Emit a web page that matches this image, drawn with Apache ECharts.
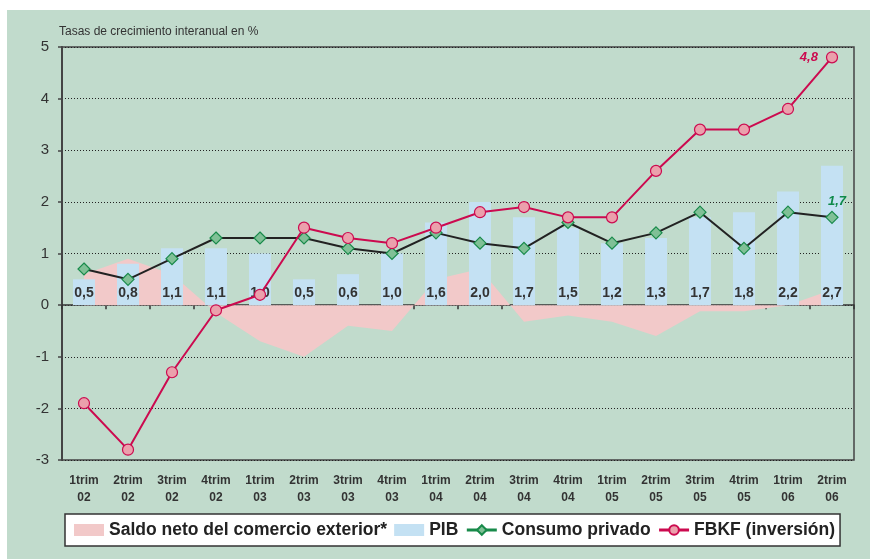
<!DOCTYPE html>
<html>
<head>
<meta charset="utf-8">
<title>Crecimiento interanual</title>
<script src="https://cdn.jsdelivr.net/npm/echarts@6/dist/echarts.min.js"></script>
<style>
  html, body { margin: 0; padding: 0; background: #fff; }
  #main { position: absolute; left: 7px; top: 10px; width: 863px; height: 549px; }
</style>
</head>
<body>
<div id="main"></div>
<script>
var trimestres = ['1trim\n02', '2trim\n02', '3trim\n02', '4trim\n02', '1trim\n03', '2trim\n03', '3trim\n03', '4trim\n03',
                  '1trim\n04', '2trim\n04', '3trim\n04', '4trim\n04', '1trim\n05', '2trim\n05', '3trim\n05', '4trim\n05',
                  '1trim\n06', '2trim\n06'];
var saldo = [0.6, 0.9, 0.6, -0.15, -0.7, -1.0, -0.4, -0.5, 0.5, 0.7, -0.32, -0.2, -0.32, -0.6, -0.12, -0.12, 0.0, 0.3];
var pib = [0.5, 0.8, 1.1, 1.1, 1.0, 0.5, 0.6, 1.0, 1.6, 2.0, 1.7, 1.5, 1.2, 1.3, 1.7, 1.8, 2.2, 2.7];
var consumo = [0.7, 0.5, 0.9, 1.3, 1.3, 1.3, 1.1, 1.0, 1.4, 1.2, 1.1, 1.6, 1.2, 1.4, 1.8, 1.1, 1.8, 1.7];
var fbkf = [-1.9, -2.8, -1.3, -0.1, 0.2, 1.5, 1.3, 1.2, 1.5, 1.8, 1.9, 1.7, 1.7, 2.6, 3.4, 3.4, 3.8, 4.8];
var yTicks = [-3, 5, 1];

var fuente = '"Liberation Sans", Arial, sans-serif';
function coma(v) { return v.toFixed(1).replace('.', ','); }

var ultimo = trimestres.length - 1;

var myChart = echarts.init(document.getElementById('main'));
var option = {
  backgroundColor: '#c1dbcc',
  animation: false,
  textStyle: { fontFamily: fuente },
  title: {
    text: 'Tasas de crecimiento interanual en %',
    left: 47, top: 11,
    textStyle: { fontSize: 12, fontWeight: 'normal', color: '#333', fontFamily: fuente }
  },
  legend: {
    left: 58, top: 504,
    backgroundColor: '#fff',
    borderColor: '#333', borderWidth: 1.5,
    padding: [7, 5, 7, 9],
    itemGap: 7,
    itemWidth: 30, itemHeight: 12,
    textStyle: { fontSize: 17.5, fontWeight: 'bold', color: '#222', fontFamily: fuente },
    data: [
      { name: 'Saldo neto del comercio exterior*', icon: 'rect' },
      { name: 'PIB', icon: 'rect' },
      { name: 'Consumo privado', lineStyle: { color: '#188a4a', width: 3 } },
      { name: 'FBKF (inversión)', lineStyle: { color: '#cc0a4f', width: 3 } }
    ]
  },
  grid: {
    left: 55, top: 37, right: 16, bottom: 99,
    show: true, borderColor: '#444', borderWidth: 1.5, backgroundColor: 'transparent'
  },
  xAxis: [
    {
      type: 'category', data: trimestres,
      axisLine: { onZero: true, lineStyle: { color: '#333', width: 1.5 } },
      axisTick: { show: true, length: 4, lineStyle: { color: '#333', width: 1.5 } },
      axisLabel: { show: false }
    },
    {
      type: 'category', data: trimestres, position: 'bottom',
      axisLine: { show: false, onZero: false },
      axisTick: { show: false },
      axisLabel: { fontSize: 12, fontWeight: 'bold', color: '#333', lineHeight: 17, margin: 12 }
    }
  ],
  yAxis: {
    type: 'value', min: yTicks[0], max: yTicks[1], interval: yTicks[2],
    axisLine: { show: true, lineStyle: { color: '#444', width: 2 } },
    axisTick: { show: true, length: 4, lineStyle: { color: '#444', width: 1.5 } },
    axisLabel: { fontSize: 15, color: '#333', margin: 13 },
    splitLine: { lineStyle: { type: [1, 2], color: '#222', width: 1 } }
  },
  series: [
    {
      name: 'Saldo neto del comercio exterior*', type: 'line', data: saldo, z: 1,
      symbol: 'none', lineStyle: { width: 0 },
      itemStyle: { color: '#f2c9c9' },
      areaStyle: { color: '#f2c9c9', opacity: 1 }
    },
    {
      name: 'PIB', type: 'bar', data: pib, barWidth: 22, z: 2,
      itemStyle: { color: '#c4e1f3' },
      label: {
        show: true, position: 'insideBottom', distance: 5,
        fontSize: 14, fontWeight: 'bold', color: '#333',
        formatter: function (p) { return coma(p.value); }
      }
    },
    {
      name: 'Consumo privado', type: 'line', data: consumo, z: 3,
      symbol: 'diamond', symbolSize: 12,
      lineStyle: { color: '#222', width: 2 },
      itemStyle: { color: '#80c096', borderColor: '#188a4a', borderWidth: 1.2 },
      label: {
        show: true, position: 'top', offset: [5, 2],
        fontSize: 13, fontWeight: 'bold', fontStyle: 'italic', color: '#0f8a4a',
        formatter: function (p) { return p.dataIndex === ultimo ? coma(p.value) : ''; }
      }
    },
    {
      name: 'FBKF (inversión)', type: 'line', data: fbkf, z: 4,
      symbol: 'circle', symbolSize: 11,
      lineStyle: { color: '#cc0a4f', width: 2 },
      itemStyle: { color: '#eba0ac', borderColor: '#cc0a4f', borderWidth: 1.2 },
      label: {
        show: true, position: 'left', distance: 8, offset: [0, 0],
        fontSize: 13, fontWeight: 'bold', fontStyle: 'italic', color: '#cc0a4f',
        formatter: function (p) { return p.dataIndex === ultimo ? coma(p.value) : ''; }
      }
    }
  ]
};
myChart.setOption(option);
</script>
</body>
</html>
